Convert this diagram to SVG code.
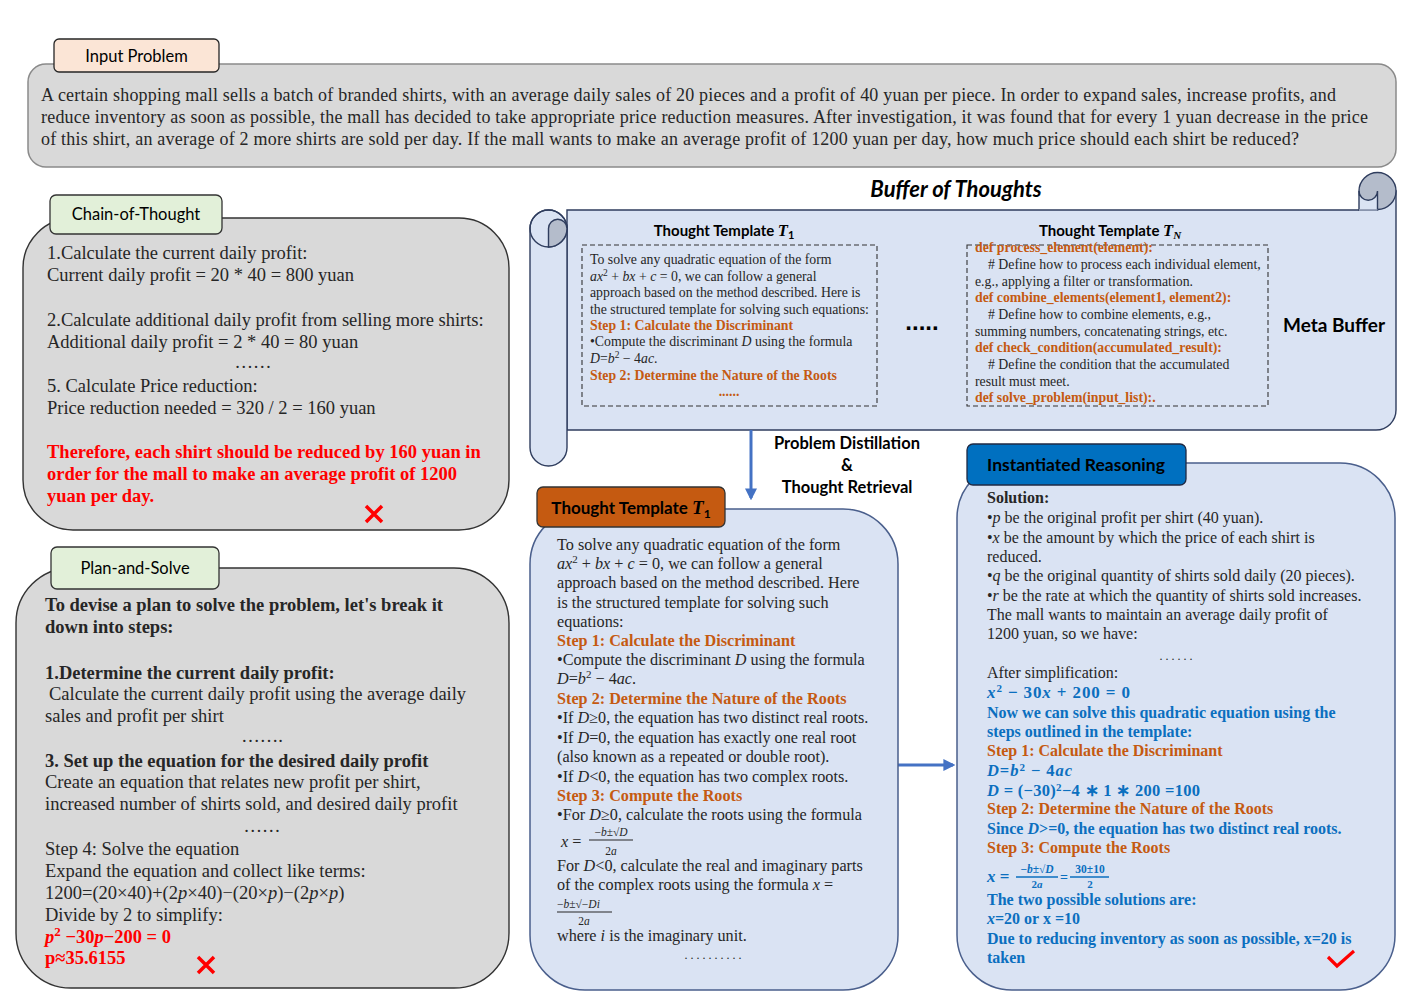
<svg xmlns="http://www.w3.org/2000/svg" width="1419" height="997" viewBox="0 0 1419 997">
<defs>
<style>
.serif{font-family:"Liberation Serif","Times New Roman",serif;fill:#262626}
.sans{font-family:Lato,"Open Sans","Liberation Sans",sans-serif;fill:#000}
.mi{font-style:italic}
.b{font-weight:bold}
.or{fill:#c55a11;font-weight:bold}
.bl{fill:#0b6fbf;font-weight:bold}
.red{fill:#ff0000;font-weight:bold}
.lab{font-family:Lato,"Open Sans","Liberation Sans",sans-serif;font-size:16.5px;fill:#000;text-anchor:middle}
.grayBox{fill:#d9d9d9;stroke:#333;stroke-width:1.4}
.blueBox{fill:#dae3f3;stroke:#4a5f8c;stroke-width:1.5}
.scroll{fill:#dae3f3;stroke:#2f3d5e;stroke-width:1.4}
.curl{fill:#b4bccb;stroke:#2f3d5e;stroke-width:1.4}
.dash{fill:none;stroke:#333;stroke-width:1.1;stroke-dasharray:5 3}
.arrow{stroke:#4472c4;stroke-width:3;fill:none}
.cross{stroke:#ff0000;stroke-width:3.5;fill:none}
</style>
<marker id="ah" viewBox="0 0 10 10" refX="8" refY="5" markerWidth="4" markerHeight="4" orient="auto" markerUnits="strokeWidth">
<path d="M0,0 L10,5 L0,10 Z" fill="#4472c4"/>
</marker>
</defs>
<rect width="1419" height="997" fill="#fff"/>

<g id="input-problem">
<rect x="28" y="64" width="1368" height="103" rx="18" fill="#d9d9d9" stroke="#8a8a8a" stroke-width="1.5"/>
<rect x="54" y="39" width="165" height="33" rx="5" fill="#fbe5d6" stroke="#262626" stroke-width="1.3"/>
<text class="lab" x="136.5" y="62">Input Problem</text>
<g class="serif" font-size="18">
<text x="41" y="101" textLength="1295" lengthAdjust="spacing">A certain shopping mall sells a batch of branded shirts, with an average daily sales of 20 pieces and a profit of 40 yuan per piece. In order to expand sales, increase profits, and</text>
<text x="41" y="123" textLength="1327" lengthAdjust="spacing">reduce inventory as soon as possible, the mall has decided to take appropriate price reduction measures. After investigation, it was found that for every 1 yuan decrease in the price</text>
<text x="41" y="145" textLength="1258" lengthAdjust="spacing">of this shirt, an average of 2 more shirts are sold per day. If the mall wants to make an average profit of 1200 yuan per day, how much price should each shirt be reduced?</text>
</g>
</g>

<g id="chain-of-thought">
<rect class="grayBox" x="23" y="218" width="486" height="312" rx="50"/>
<rect x="50" y="195" width="172" height="39" rx="6" fill="#e2f0d9" stroke="#333" stroke-width="1.3"/>
<text class="lab" x="136" y="220">Chain-of-Thought</text>
<g class="serif" font-size="18.5">
<text x="47" y="259">1.Calculate the current daily profit:</text>
<text x="47" y="281">Current daily profit = 20 * 40 = 800 yuan</text>
<text x="47" y="326">2.Calculate additional daily profit from selling more shirts:</text>
<text x="47" y="348">Additional daily profit = 2 * 40 = 80 yuan</text>
<text x="253" y="368" text-anchor="middle">……</text>
<text x="47" y="392">5. Calculate Price reduction:</text>
<text x="47" y="414">Price reduction needed = 320 / 2 = 160 yuan</text>
<text class="red" x="47" y="458">Therefore, each shirt should be reduced by 160 yuan in</text>
<text class="red" x="47" y="480">order for the mall to make an average profit of 1200</text>
<text class="red" x="47" y="502">yuan per day.</text>
</g>
<path class="cross" d="M366,506 L382,522 M382,506 L366,522"/>
</g>

<g id="plan-and-solve">
<rect class="grayBox" x="16" y="568" width="493" height="420" rx="55"/>
<rect x="51" y="547" width="168" height="42" rx="6" fill="#e2f0d9" stroke="#333" stroke-width="1.3"/>
<text class="lab" x="135" y="574">Plan-and-Solve</text>
<g class="serif" font-size="18.5">
<text class="b" x="45" y="611">To devise a plan to solve the problem, let's break it</text>
<text class="b" x="45" y="633">down into steps:</text>
<text class="b" x="45" y="679">1.Determine the current daily profit:</text>
<text x="49" y="700">Calculate the current daily profit using the average daily</text>
<text x="45" y="722">sales and profit per shirt</text>
<text x="262" y="742" text-anchor="middle">…….</text>
<text class="b" x="45" y="767">3. Set up the equation for the desired daily profit</text>
<text x="45" y="788">Create an equation that relates new profit per shirt,</text>
<text x="45" y="810">increased number of shirts sold, and desired daily profit</text>
<text x="262" y="832" text-anchor="middle">……</text>
<text x="45" y="855">Step 4: Solve the equation</text>
<text x="45" y="877">Expand the equation and collect like terms:</text>
<text x="45" y="899">1200=(20×40)+(2<tspan class="mi">p</tspan>×40)−(20×<tspan class="mi">p</tspan>)−(2<tspan class="mi">p</tspan>×<tspan class="mi">p</tspan>)</text>
<text x="45" y="921">Divide by 2 to simplify:</text>
<text class="red" x="45" y="943"><tspan class="mi">p</tspan><tspan dy="-7" font-size="13">2</tspan><tspan dy="7"> −30</tspan><tspan class="mi">p</tspan>−200 = 0</text>
<text class="red" x="45" y="964">p≈35.6155</text>
</g>
<path class="cross" d="M198,957 L214,973 M214,957 L198,973"/>
</g>

<g id="buffer-of-thoughts">
<text class="sans b mi" x="956" y="197" font-size="22" text-anchor="middle">Buffer of Thoughts</text>
<path class="scroll" d="M567,210 H1377 V191 H1396 V410 A20 20 0 0 1 1376,430 H567 Z"/>
<circle class="curl" cx="1377.5" cy="191" r="18.5"/>
<path class="scroll" d="M1359,191 A9.25 9.25 0 0 0 1377.5,191 V210 H1359 Z"/>
<line x1="1359" y1="210" x2="1377.5" y2="210" stroke="#dae3f3" stroke-width="1"/>
<rect class="scroll" x="530" y="210" width="37" height="256" rx="18.5"/>
<circle cx="548.5" cy="228.5" r="18.5" fill="none" stroke="#2f3d5e" stroke-width="1.4"/>
<path class="curl" d="M548.5,247 V228.5 A9.25 9.25 0 0 1 567,228.5 A18.5 18.5 0 0 1 548.5,247 Z"/>
<text class="sans b" x="1334" y="332" font-size="19" text-anchor="middle">Meta Buffer</text>
<text x="922" y="330" font-family="Liberation Sans,sans-serif" font-weight="bold" font-size="24" text-anchor="middle">.....</text>
</g>

<g id="template-t1">
<text class="sans b" x="724" y="236" font-size="15" text-anchor="middle">Thought Template <tspan font-family="Liberation Serif,serif" font-style="italic" font-size="16.5">T</tspan><tspan dy="3" font-size="11">1</tspan></text>
<rect class="dash" x="582" y="245" width="295" height="161"/>
<g class="serif" font-size="13.8">
<text x="590" y="264">To solve any quadratic equation of the form</text>
<text x="590" y="281"> <tspan class="mi">ax</tspan><tspan dy="-5" font-size="9.5">2</tspan><tspan dy="5"> +  </tspan><tspan class="mi">bx</tspan>  +  <tspan class="mi">c</tspan>  =  0, we can follow a general</text>
<text x="590" y="297">approach based on the method described. Here is</text>
<text x="590" y="314">the structured template for solving such equations:</text>
<text class="or" x="590" y="330">Step 1: Calculate the Discriminant</text>
<text x="590" y="346">•Compute the discriminant <tspan class="mi">D</tspan> using the formula</text>
<text x="590" y="363"><tspan class="mi">D</tspan>=<tspan class="mi">b</tspan><tspan dy="-5" font-size="9.5">2</tspan><tspan dy="5"> − 4</tspan><tspan class="mi">ac</tspan>.</text>
<text class="or" x="590" y="380">Step 2: Determine the Nature of the Roots</text>
<text class="or" x="729" y="396" text-anchor="middle">......</text>
</g>
</g>

<g id="template-tn">
<text class="sans b" x="1110" y="236" font-size="15" text-anchor="middle">Thought Template <tspan font-family="Liberation Serif,serif" font-style="italic" font-size="16.5">T</tspan><tspan dy="3" font-size="11" font-style="italic" font-family="Liberation Serif,serif">N</tspan></text>
<rect class="dash" x="967" y="245" width="301" height="161"/>
<g class="serif" font-size="13.8">
<text class="or" x="975" y="252">def process_element(element):</text>
<text x="988" y="269"># Define how to process each individual element,</text>
<text x="975" y="286">e.g., applying a filter or transformation.</text>
<text class="or" x="975" y="302">def combine_elements(element1, element2):</text>
<text x="988" y="319"># Define how to combine elements, e.g.,</text>
<text x="975" y="336">summing numbers, concatenating strings, etc.</text>
<text class="or" x="975" y="352">def check_condition(accumulated_result):</text>
<text x="988" y="369"># Define the condition that the accumulated</text>
<text x="975" y="386">result must meet.</text>
<text class="or" x="975" y="402">def solve_problem(input_list):.</text>
</g>
</g>

<g id="connectors">
<line class="arrow" x1="751" y1="430" x2="751" y2="498" marker-end="url(#ah)"/>
<line class="arrow" x1="898" y1="765" x2="953" y2="765" marker-end="url(#ah)"/>
<g class="sans b" font-size="16.5" text-anchor="middle">
<text x="847" y="449">Problem Distillation</text>
<text x="847" y="471">&amp;</text>
<text x="847" y="493">Thought Retrieval</text>
</g>
</g>

<g id="thought-template-instance">
<rect class="blueBox" x="530" y="509" width="368" height="481" rx="55"/>
<rect x="537" y="487" width="188" height="40" rx="6" fill="#c55a11" stroke="#333" stroke-width="1.3"/>
<text class="sans b" x="631" y="514" font-size="17" text-anchor="middle">Thought Template <tspan font-family="Liberation Serif,serif" font-style="italic" font-size="19">T</tspan><tspan dy="4" font-size="12">1</tspan></text>
<g class="serif" font-size="16.2">
<text x="557" y="550">To solve any quadratic equation of the form</text>
<text x="557" y="569"> <tspan class="mi">ax</tspan><tspan dy="-6" font-size="11">2</tspan><tspan dy="6"> +  </tspan><tspan class="mi">bx</tspan>  +  <tspan class="mi">c</tspan>  =  0, we can follow a general</text>
<text x="557" y="588">approach based on the method described. Here</text>
<text x="557" y="608">is the structured template for solving such</text>
<text x="557" y="627">equations:</text>
<text class="or" x="557" y="646">Step 1: Calculate the Discriminant</text>
<text x="557" y="665">•Compute the discriminant <tspan class="mi">D</tspan> using the formula</text>
<text x="557" y="684"><tspan class="mi">D</tspan>=<tspan class="mi">b</tspan><tspan dy="-6" font-size="11">2</tspan><tspan dy="6"> − 4</tspan><tspan class="mi">ac</tspan>.</text>
<text class="or" x="557" y="704">Step 2: Determine the Nature of the Roots</text>
<text x="557" y="723">•If <tspan class="mi">D</tspan>≥0, the equation has two distinct real roots.</text>
<text x="557" y="743">•If <tspan class="mi">D</tspan>=0, the equation has exactly one real root</text>
<text x="557" y="762">(also known as a repeated or double root).</text>
<text x="557" y="782">•If <tspan class="mi">D</tspan>&lt;0, the equation has two complex roots.</text>
<text class="or" x="557" y="801">Step 3: Compute the Roots</text>
<text x="557" y="820">•For <tspan class="mi">D</tspan>≥0, calculate the roots using the formula</text>
<text x="561" y="847"><tspan class="mi">x</tspan> =</text>
<text x="611" y="836" font-size="11.5" text-anchor="middle">−<tspan class="mi">b</tspan>±√<tspan class="mi">D</tspan></text>
<text x="611" y="855" font-size="11.5" text-anchor="middle">2<tspan class="mi">a</tspan></text>
<text x="557" y="871">For <tspan class="mi">D</tspan>&lt;0, calculate the real and imaginary parts</text>
<text x="557" y="890">of the complex roots using the formula  <tspan class="mi">x</tspan> =</text>
<text x="557" y="908" font-size="11.5">−<tspan class="mi">b</tspan>±√−<tspan class="mi">Di</tspan></text>
<text x="584" y="925" font-size="11.5" text-anchor="middle">2<tspan class="mi">a</tspan></text>
<text x="557" y="941">where <tspan class="mi">i</tspan> is the imaginary unit.</text>
<text x="713" y="959" font-size="12" text-anchor="middle">. . . . . . . . . .</text>
</g>
<line x1="589" y1="840" x2="633" y2="840" stroke="#262626" stroke-width="1.2"/>
<line x1="557" y1="912" x2="612" y2="912" stroke="#262626" stroke-width="1.2"/>
</g>

<g id="instantiated-reasoning">
<rect class="blueBox" x="957" y="463" width="438" height="527" rx="55"/>
<rect x="967" y="444" width="219" height="41" rx="6" fill="#0070c0" stroke="#1f2a44" stroke-width="1.3"/>
<text class="sans b" x="1076" y="471" font-size="17.5" text-anchor="middle">Instantiated Reasoning</text>
<g class="serif" font-size="16">
<text class="b" x="987" y="503">Solution:</text>
<text x="987" y="523">•<tspan class="mi">p</tspan> be the original profit per shirt (40 yuan).</text>
<text x="987" y="543">•<tspan class="mi">x</tspan> be the amount by which the price of each shirt is</text>
<text x="987" y="562">reduced.</text>
<text x="987" y="581">•<tspan class="mi">q</tspan> be the original quantity of shirts sold daily (20 pieces).</text>
<text x="987" y="601">•<tspan class="mi">r</tspan> be the rate at which the quantity of shirts sold increases.</text>
<text x="987" y="620">The mall wants to maintain an average daily profit of</text>
<text x="987" y="639">1200 yuan, so we have:</text>
<text x="1176" y="660" font-size="12" text-anchor="middle">. . . . . .</text>
<text x="987" y="678">After simplification:</text>
<g class="bl">
<text x="987" y="698" font-size="17" textLength="143" lengthAdjust="spacing"><tspan class="mi">x</tspan><tspan dy="-6" font-size="11">2</tspan><tspan dy="6"> − 30</tspan><tspan class="mi">x</tspan> + 200 = 0</text>
<text x="987" y="718">Now we can solve this quadratic equation using the</text>
<text x="987" y="737">steps outlined in the template:</text>
<text x="987" y="776" font-size="16.5" textLength="85" lengthAdjust="spacing"><tspan class="mi">D</tspan>=<tspan class="mi">b</tspan><tspan dy="-5" font-size="11">2</tspan><tspan dy="5"> − 4</tspan><tspan class="mi">ac</tspan></text>
<text x="987" y="796" font-size="16.5" textLength="213" lengthAdjust="spacing"><tspan class="mi">D</tspan> = (−30)<tspan dy="-5" font-size="11">2</tspan><tspan dy="5">−4 ∗ 1 ∗ 200 =100</tspan></text>
<text x="987" y="834">Since <tspan class="mi">D</tspan>&gt;=0, the equation has two distinct real roots.</text>
<text x="987" y="882" font-size="17"><tspan class="mi">x</tspan> =</text>
<text x="1037" y="873" font-size="11.5" text-anchor="middle">−<tspan class="mi">b</tspan>±√<tspan class="mi">D</tspan></text>
<text x="1037" y="887.5" font-size="11" text-anchor="middle">2<tspan class="mi">a</tspan></text>
<text x="1064" y="882" font-size="14" text-anchor="middle">=</text>
<text x="1090" y="873" font-size="11.5" text-anchor="middle">30±10</text>
<text x="1090" y="887.5" font-size="11" text-anchor="middle">2</text>
<text x="987" y="905">The two possible solutions are:</text>
<text x="987" y="924"><tspan class="mi">x</tspan>=20 or x =10</text>
<text x="987" y="944">Due to reducing inventory as soon as possible, x=20 is</text>
<text x="987" y="963">taken</text>
</g>
<text class="or" x="987" y="756">Step 1: Calculate the Discriminant</text>
<text class="or" x="987" y="814">Step 2: Determine the Nature of the Roots</text>
<text class="or" x="987" y="853">Step 3: Compute the Roots</text>
</g>
<line x1="1016" y1="877" x2="1058" y2="877" stroke="#0b6fbf" stroke-width="1.3"/>
<line x1="1070" y1="877" x2="1109" y2="877" stroke="#0b6fbf" stroke-width="1.3"/>
<path d="M1328,957 L1337,966 L1354,951" fill="none" stroke="#ff0000" stroke-width="3.2"/>
</g>
</svg>
